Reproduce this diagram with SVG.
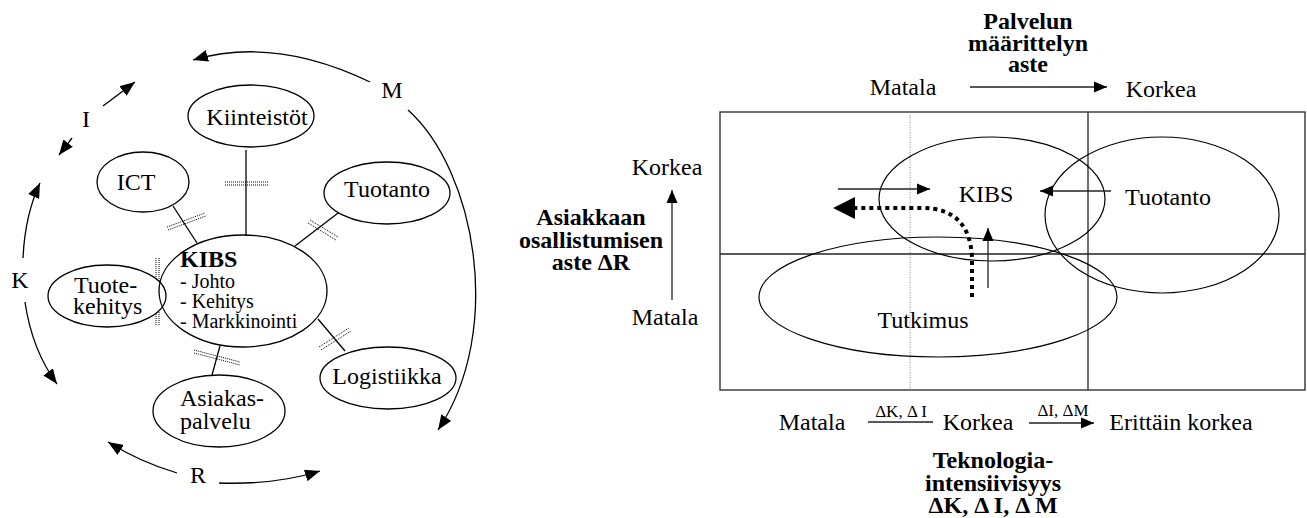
<svg xmlns="http://www.w3.org/2000/svg" width="1307" height="518" viewBox="0 0 1307 518">
  <style>
    text { font-family: "Liberation Serif", "Times New Roman", serif; fill: #000; }
    .lbl { font-size: 24px; }
    .list { font-size: 20px; }
    .b { font-weight: bold; }
    .sm { font-size: 17px; }
    .mid { text-anchor: middle; }
    .node { fill: #fff; stroke: #000; stroke-width: 1.3; }
    .ring { fill: none; stroke: #000; stroke-width: 1.3; }
    .link { fill: none; stroke: #000; stroke-width: 1.3; }
    .hatch { fill: none; stroke: #000; stroke-width: 1; stroke-dasharray: 1 1; }
    .grid { fill: none; stroke: #222; stroke-width: 1.3; }
    .guide { fill: none; stroke: #888; stroke-width: 1; stroke-dasharray: 1 1.5; }
    .blob { fill: none; stroke: #000; stroke-width: 1.2; }
    .arr { fill: none; stroke: #222; stroke-width: 1.3; }
    .dots { fill: none; stroke: #000; stroke-width: 4; stroke-dasharray: 4 4; }
  </style>
  <defs>
    <marker id="headL" markerUnits="userSpaceOnUse" markerWidth="16" markerHeight="12" refX="15" refY="6" orient="auto">
      <path d="M0,0 L15,6 L0,12 z" fill="#000"/>
    </marker>
    <marker id="headS" markerUnits="userSpaceOnUse" markerWidth="14" markerHeight="12" refX="13" refY="6" orient="auto">
      <path d="M0,0.5 L13,6 L0,11.5 z" fill="#000"/>
    </marker>
    <marker id="headB" markerUnits="userSpaceOnUse" markerWidth="22" markerHeight="22" refX="21" refY="11" orient="auto">
      <path d="M0,1 L21,11 L0,21 z" fill="#000"/>
    </marker>
  </defs>

  <!-- ===== Left: KIBS network ===== -->
  <g id="cycle-arrows">
    <path class="ring" d="M370 82 Q275 36 193 60" marker-end="url(#headL)"/>
    <path class="ring" d="M408 110 C475 170 505 330 438 430" marker-end="url(#headL)"/>
    <line class="ring" x1="103" y1="106" x2="135" y2="82" marker-end="url(#headL)"/>
    <line class="ring" x1="72" y1="138" x2="59" y2="155" marker-end="url(#headL)"/>
    <path class="ring" d="M23 258 Q25 215 40 183" marker-end="url(#headL)"/>
    <path class="ring" d="M25 302 Q32 350 57 384" marker-end="url(#headL)"/>
    <path class="ring" d="M177 473 Q140 462 108 442" marker-end="url(#headL)"/>
    <path class="ring" d="M219 483 Q275 485 320 471" marker-end="url(#headL)"/>
    <text class="lbl mid" x="392" y="98">M</text>
    <text class="lbl mid" x="86" y="127">I</text>
    <text class="lbl mid" x="20" y="288">K</text>
    <text class="lbl mid" x="198" y="483">R</text>
  </g>

  <g id="links">
    <line class="link" x1="246" y1="150" x2="246" y2="236"/>
    <line class="link" x1="173" y1="206" x2="197" y2="243"/>
    <line class="link" x1="342" y1="210" x2="295" y2="246"/>
    <line class="link" x1="220" y1="346" x2="212" y2="375"/>
    <line class="link" x1="318" y1="319" x2="345" y2="351"/>
    <!-- double dotted crossbars -->
    <line class="hatch" x1="225" y1="182" x2="269" y2="182"/>
    <line class="hatch" x1="225" y1="185" x2="269" y2="185"/>
    <line class="hatch" x1="167" y1="227" x2="205" y2="213"/>
    <line class="hatch" x1="168" y1="230" x2="206" y2="216"/>
    <line class="hatch" x1="308" y1="223" x2="336" y2="240"/>
    <line class="hatch" x1="310" y1="220" x2="338" y2="237"/>
    <line class="hatch" x1="156" y1="258" x2="156" y2="326"/>
    <line class="hatch" x1="159" y1="258" x2="159" y2="326"/>
    <line class="hatch" x1="194" y1="350" x2="240" y2="362"/>
    <line class="hatch" x1="194" y1="353" x2="240" y2="365"/>
    <line class="hatch" x1="319" y1="347" x2="349" y2="328"/>
    <line class="hatch" x1="321" y1="350" x2="351" y2="331"/>
  </g>

  <g id="node-kiinteistot">
    <ellipse class="node" cx="251" cy="116" rx="63" ry="31"/>
    <text class="lbl mid" x="257" y="125">Kiinteistöt</text>
  </g>
  <g id="node-ict">
    <ellipse class="node" cx="143" cy="182" rx="46" ry="30"/>
    <text class="lbl mid" x="136" y="190">ICT</text>
  </g>
  <g id="node-tuotanto">
    <ellipse class="node" cx="387" cy="193" rx="63" ry="31"/>
    <text class="lbl mid" x="387" y="197">Tuotanto</text>
  </g>
  <g id="node-tuotekehitys">
    <ellipse class="node" cx="107" cy="296" rx="59" ry="31"/>
    <text class="lbl" x="74" y="293">Tuote-</text>
    <text class="lbl" x="73" y="314">kehitys</text>
  </g>
  <g id="node-kibs">
    <ellipse class="node" cx="243" cy="291" rx="84" ry="56" fill-opacity="0"/>
    <text class="lbl b" x="180" y="267">KIBS</text>
    <text class="list" x="180" y="288">- Johto</text>
    <text class="list" x="180" y="308">- Kehitys</text>
    <text class="list" x="180" y="328">- Markkinointi</text>
  </g>
  <g id="node-asiakaspalvelu">
    <ellipse class="node" cx="219" cy="411" rx="66" ry="36"/>
    <text class="lbl" x="180" y="406">Asiakas-</text>
    <text class="lbl" x="180" y="429">palvelu</text>
  </g>
  <g id="node-logistiikka">
    <ellipse class="node" cx="388" cy="378" rx="68" ry="31"/>
    <text class="lbl mid" x="387" y="384">Logistiikka</text>
  </g>

  <!-- ===== Right: positioning matrix ===== -->
  <g id="matrix">
    <rect class="grid" x="720" y="112" width="585" height="278"/>
    <line class="grid" x1="720" y1="254" x2="1305" y2="254"/>
    <line class="grid" x1="1088" y1="112" x2="1088" y2="390"/>
    <line class="guide" x1="910" y1="112" x2="910" y2="390"/>
  </g>

  <g id="area-kibs">
    <ellipse class="blob" cx="992" cy="199" rx="113" ry="62"/>
    <text class="lbl mid" x="986" y="202">KIBS</text>
  </g>
  <g id="area-tuotanto">
    <ellipse class="blob" cx="1162" cy="215" rx="117" ry="78"/>
    <text class="lbl mid" x="1168" y="205">Tuotanto</text>
  </g>
  <g id="area-tutkimus">
    <ellipse class="blob" cx="938" cy="297" rx="179" ry="60"/>
    <text class="lbl mid" x="923" y="328">Tutkimus</text>
  </g>

  <g id="shifts">
    <line class="arr" x1="838" y1="189" x2="930" y2="189" marker-end="url(#headS)"/>
    <line class="arr" x1="1111" y1="191" x2="1040" y2="191" marker-end="url(#headS)"/>
    <line class="arr" x1="988" y1="288" x2="988" y2="228" marker-end="url(#headS)"/>
    <path class="dots" d="M972 297 L972 258 Q970 208 922 208 L850 208"/>
    <path d="M833 208 L855 197 L855 219 z" fill="#000"/>
  </g>

  <g id="axis-top">
    <text class="lbl b mid" x="1028" y="29">Palvelun</text>
    <text class="lbl b mid" x="1028" y="51">määrittelyn</text>
    <text class="lbl b mid" x="1028" y="72">aste</text>
    <text class="lbl mid" x="903" y="95">Matala</text>
    <line class="arr" x1="970" y1="87" x2="1107" y2="87" marker-end="url(#headS)"/>
    <text class="lbl mid" x="1161" y="97">Korkea</text>
  </g>

  <g id="axis-left">
    <text class="lbl mid" x="667" y="175">Korkea</text>
    <line class="arr" x1="672" y1="300" x2="672" y2="190" marker-end="url(#headS)"/>
    <text class="lbl mid" x="665" y="325">Matala</text>
    <text class="lbl b mid" x="591" y="225">Asiakkaan</text>
    <text class="lbl b mid" x="591" y="248">osallistumisen</text>
    <text class="lbl b mid" x="591" y="270">aste ΔR</text>
  </g>

  <g id="axis-bottom">
    <text class="lbl mid" x="812" y="430">Matala</text>
    <line class="arr" x1="868" y1="422" x2="933" y2="422"/>
    <text class="sm mid" x="901" y="417">ΔK, Δ I</text>
    <text class="lbl mid" x="978" y="430">Korkea</text>
    <line class="arr" x1="1029" y1="423" x2="1094" y2="423" marker-end="url(#headS)"/>
    <text class="sm mid" x="1063" y="416">ΔI, ΔM</text>
    <text class="lbl mid" x="1181" y="430">Erittäin korkea</text>
    <text class="lbl b mid" x="993" y="468">Teknologia-</text>
    <text class="lbl b mid" x="993" y="491">intensiivisyys</text>
    <text class="lbl b mid" x="993" y="513">ΔK, Δ I, Δ M</text>
  </g>
</svg>
